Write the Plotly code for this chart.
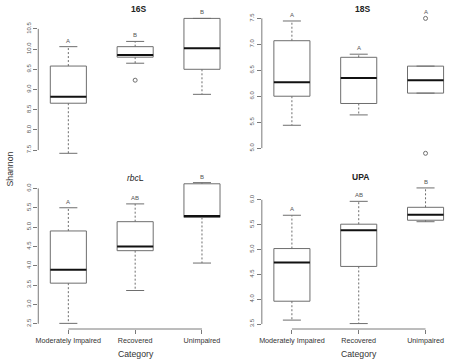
import plotly.graph_objects as go

# ---------------- data ----------------
categories = ["Moderately Impaired", "Recovered", "Unimpaired"]
cat_pos = [1, 2, 3]

titles = ["16S", "18S", "<i>rbc</i>L", "UPA"]

# 16S
s16_low = [7.42, 9.65, 8.88]
s16_q1 = [8.66, 9.80, 9.50]
s16_med = [8.82, 9.855, 10.02]
s16_q3 = [9.58, 10.06, 10.76]
s16_high = [10.06, 10.19, 10.76]
s16_out = [[], [9.23], []]
s16_letters = ["A", "B", "B"]
s16_ticks = [7.5, 8.0, 8.5, 9.0, 9.5, 10.0, 10.5]

# 18S
s18_low = [5.44, 5.64, 6.06]
s18_q1 = [6.00, 5.86, 6.06]
s18_med = [6.27, 6.35, 6.31]
s18_q3 = [7.07, 6.75, 6.58]
s18_high = [7.45, 6.81, 6.58]
s18_out = [[], [], [7.50, 4.90]]
s18_letters = ["A", "A", "A"]
s18_ticks = [5.0, 5.5, 6.0, 6.5, 7.0, 7.5]

# rbcL
rbc_low = [2.51, 3.36, 4.07]
rbc_q1 = [3.55, 4.39, 5.25]
rbc_med = [3.90, 4.50, 5.29]
rbc_q3 = [4.90, 5.14, 6.12]
rbc_high = [5.50, 5.60, 6.15]
rbc_out = [[], [], []]
rbc_letters = ["A", "AB", "B"]
rbc_ticks = [2.5, 3.0, 3.5, 4.0, 4.5, 5.0, 5.5, 6.0]

# UPA
upa_low = [3.58, 3.51, 5.56]
upa_q1 = [3.96, 4.66, 5.59]
upa_med = [4.74, 5.39, 5.70]
upa_q3 = [5.02, 5.51, 5.85]
upa_high = [5.69, 5.97, 6.24]
upa_out = [[], [], []]
upa_letters = ["A", "AB", "B"]
upa_ticks = [3.5, 4.0, 4.5, 5.0, 5.5, 6.0]

panels = [
    (s16_low, s16_q1, s16_med, s16_q3, s16_high, s16_out, s16_letters, s16_ticks),
    (s18_low, s18_q1, s18_med, s18_q3, s18_high, s18_out, s18_letters, s18_ticks),
    (rbc_low, rbc_q1, rbc_med, rbc_q3, rbc_high, rbc_out, rbc_letters, rbc_ticks),
    (upa_low, upa_q1, upa_med, upa_q3, upa_high, upa_out, upa_letters, upa_ticks),
]

# ---------------- layout geometry ----------------
W, H = 468, 363
FONT = "Liberation Sans, Arial, Helvetica, sans-serif"
BOX_COL = "#6e6e6e"
WHISK_COL = "#6e6e6e"
AXIS_COL = "#7a7a7a"
TXT = "#333333"
TICKTXT = "#555555"

half_w = 0.27     # box half width (category units)
cap_w = 0.135     # staple half width
x_range = [0.55, 3.55]

col_px = [(35.5, 237.25), (260.5, 462.25)]
row_px = [(13, 158.7), (13, 158.7), (177, 329), (182.5, 329)]

title_pos = [(136.5, 9.5), (361.5, 9.5), (133, 177.5), (360, 176.5)]

fig = go.Figure()
shapes = []
annotations = []

for i, (low, q1, med, q3, high, outs, letters, ticks) in enumerate(panels):
    n = i + 1
    sfx = "" if n == 1 else str(n)
    xa, ya = "x" + sfx, "y" + sfx

    bx, by, mx, my, wx, wy, cx, cy, ox, oy = [], [], [], [], [], [], [], [], [], []
    for c, lo, a, m, b, hi, oo in zip(cat_pos, low, q1, med, q3, high, outs):
        bx += [c - half_w, c + half_w, c + half_w, c - half_w, c - half_w, None]
        by += [a, a, b, b, a, None]
        mx += [c - half_w, c + half_w, None]
        my += [m, m, None]
        wx += [c, c, None, c, c, None]
        wy += [b, hi, None, a, lo, None]
        cx += [c - cap_w, c + cap_w, None, c - cap_w, c + cap_w, None]
        cy += [hi, hi, None, lo, lo, None]
        for o in oo:
            ox.append(c)
            oy.append(o)

    common = dict(xaxis=xa, yaxis=ya, showlegend=False, hoverinfo="skip", cliponaxis=False)
    fig.add_trace(go.Scatter(x=wx, y=wy, mode="lines",
                             line=dict(color=WHISK_COL, width=1, dash="2px,2px"), **common))
    fig.add_trace(go.Scatter(x=cx, y=cy, mode="lines",
                             line=dict(color=BOX_COL, width=1), **common))
    fig.add_trace(go.Scatter(x=bx, y=by, mode="lines",
                             line=dict(color=BOX_COL, width=1), **common))
    fig.add_trace(go.Scatter(x=mx, y=my, mode="lines",
                             line=dict(color="#111111", width=2), **common))
    if ox:
        fig.add_trace(go.Scatter(x=ox, y=oy, mode="markers",
                                 marker=dict(symbol="circle-open", size=4,
                                             color=BOX_COL, line=dict(width=1)),
                                 **common))

    # significance letters
    for c, hi, oo, lab in zip(cat_pos, high, outs, letters):
        top = max([hi] + oo)
        annotations.append(dict(x=c, y=top, xref=xa, yref=ya, text=lab,
                                showarrow=False, yshift=6, yanchor="middle",
                                font=dict(size=6, color=TICKTXT, family=FONT)))

    # axis ranges (R style: data range extended by 4%)
    allv = low + high + [o for oo in outs for o in oo]
    lo_v, hi_v = min(allv), max(allv)
    pad = 0.04 * (hi_v - lo_v)

    col = i % 2
    x0p, x1p = col_px[col]
    t_px, b_px = row_px[i]
    bottom = i >= 2

    fig.layout["xaxis" + sfx] = dict(
        domain=[x0p / W, x1p / W], range=x_range, anchor=ya,
        showgrid=False, zeroline=False, showline=False,
        tickvals=cat_pos, ticktext=categories,
        ticks="outside" if bottom else "", ticklen=4, tickwidth=1, tickcolor=AXIS_COL,
        showticklabels=bottom,
        tickfont=dict(size=7.2, color=TXT, family=FONT),
    )
    fig.layout["yaxis" + sfx] = dict(
        domain=[1 - b_px / H, 1 - t_px / H], range=[lo_v - pad, hi_v + pad], anchor=xa,
        showgrid=False, zeroline=False, showline=False,
        tickvals=ticks, ticktext=[f"{t:.1f}" for t in ticks],
        ticks="outside", ticklen=4, tickwidth=1, tickcolor=AXIS_COL,
        tickangle=-90, tickfont=dict(size=6, color=TICKTXT, family=FONT),
    )

    # R-style axis lines spanning only the tick range
    shapes.append(dict(type="line", xref=xa + " domain", yref=ya, x0=0, x1=0,
                       y0=ticks[0], y1=ticks[-1], line=dict(color=AXIS_COL, width=1)))
    if bottom:
        shapes.append(dict(type="line", xref=xa, yref=ya + " domain", x0=cat_pos[0],
                           x1=cat_pos[-1], y0=0, y1=0, line=dict(color=AXIS_COL, width=1)))
        annotations.append(dict(x=((x0p + x1p) / 2 - 3) / W, y=1 - 353.7 / H, xref="paper",
                                yref="paper", text="Category", showarrow=False,
                                xanchor="center", yanchor="middle",
                                font=dict(size=8.7, color=TXT, family=FONT)))

    # panel titles
    tx, ty = title_pos[i]
    ttext = titles[i] if i == 2 else "<b>" + titles[i] + "</b>"
    annotations.append(dict(x=tx / W, y=1 - ty / H, xref="paper", yref="paper",
                            text=ttext, showarrow=False, xanchor="center", yanchor="middle",
                            font=dict(size=8.5, color="#222222", family=FONT)))

annotations.append(dict(x=7.5 / W, y=1 - 169 / H, xref="paper", yref="paper",
                        text="Shannon", textangle=-90, showarrow=False,
                        xanchor="center", yanchor="middle",
                        font=dict(size=8.7, color=TXT, family=FONT)))

fig.update_layout(
    width=W, height=H, autosize=False,
    margin=dict(l=0, r=0, t=0, b=0, pad=0),
    paper_bgcolor="white", plot_bgcolor="white",
    shapes=shapes, annotations=annotations,
    font=dict(family=FONT, color=TXT),
)

fig.write_html("out.html", config={"displayModeBar": False},
               post_script="document.body.style.margin='0px';document.body.style.overflow='hidden';")
